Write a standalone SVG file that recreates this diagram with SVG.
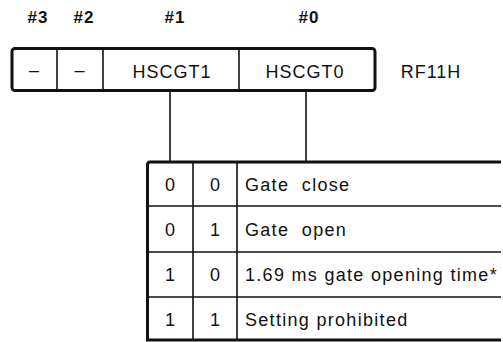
<svg xmlns="http://www.w3.org/2000/svg" width="503" height="342" viewBox="0 0 503 342">
<style>
text{font-family:"Liberation Sans",Arial,sans-serif;fill:#111;}
.bit{font-size:17px;font-weight:bold;letter-spacing:1px;text-anchor:middle;}
.reg{font-size:18px;letter-spacing:1px;text-anchor:middle;}
.cell{font-size:18px;text-anchor:middle;}
.desc{font-size:18px;letter-spacing:1.3px;}
.thick{fill:none;stroke:#111;stroke-width:3;}
.thin{fill:none;stroke:#111;stroke-width:1.6;}
</style>
<rect width="503" height="342" fill="#fff"/>
<g id="bit-labels">
<text class="bit" x="38" y="23">#3</text>
<text class="bit" x="84" y="23">#2</text>
<text class="bit" x="175" y="23">#1</text>
<text class="bit" x="309" y="23">#0</text>
</g>
<g id="register">
<rect class="thick" x="12" y="48.5" width="363" height="42" rx="3"/>
<line class="thin" x1="57" y1="48.5" x2="57" y2="90.5"/>
<line class="thin" x1="103" y1="48.5" x2="103" y2="90.5"/>
<line class="thin" x1="239" y1="48.5" x2="239" y2="90.5"/>
<text class="reg" x="34.5" y="76">–</text>
<text class="reg" x="80" y="76">–</text>
<text class="reg" x="172" y="78">HSCGT1</text>
<text class="reg" x="305" y="78">HSCGT0</text>
<text class="reg" x="431" y="78">RF11H</text>
</g>
<g id="connectors">
<line class="thin" x1="170" y1="90.5" x2="170" y2="161"/>
<line class="thin" x1="306" y1="90.5" x2="306" y2="161"/>
</g>
<g id="table">
<path class="thick" d="M501,162 H150 Q147.5,162 147.5,165 V340 H501"/>
<line class="thin" x1="147.5" y1="206" x2="501" y2="206"/>
<line class="thin" x1="147.5" y1="252" x2="501" y2="252"/>
<line class="thin" x1="147.5" y1="297" x2="501" y2="297"/>
<line class="thin" x1="193" y1="162" x2="193" y2="340"/>
<line class="thin" x1="237" y1="162" x2="237" y2="340"/>
<text class="cell" x="170" y="191">0</text>
<text class="cell" x="215" y="191">0</text>
<text class="desc" x="245" y="191" xml:space="preserve">Gate  close</text>
<text class="cell" x="170" y="236">0</text>
<text class="cell" x="215" y="236">1</text>
<text class="desc" x="245" y="236" xml:space="preserve">Gate  open</text>
<text class="cell" x="170" y="281">1</text>
<text class="cell" x="215" y="281">0</text>
<text class="desc" x="245" y="281">1.69 ms gate opening time*</text>
<text class="cell" x="170" y="326">1</text>
<text class="cell" x="215" y="326">1</text>
<text class="desc" x="245" y="326">Setting prohibited</text>
</g>
</svg>
